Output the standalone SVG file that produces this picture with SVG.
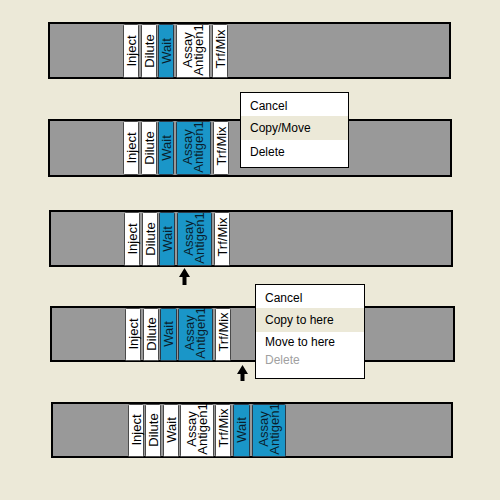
<svg xmlns="http://www.w3.org/2000/svg" width="500" height="500" viewBox="0 0 500 500">
<style>
.bar{fill:#999999;stroke:#000;stroke-width:2}
.blk{fill:#ffffff;stroke:#4a4a4a;stroke-width:1}
.blu{fill:#1a96c8;stroke:#2a3a48;stroke-width:1}
.lbl{font-family:"Liberation Sans",Arial,sans-serif;font-size:13px;fill:#000;text-anchor:middle}
.lblb{font-family:"Liberation Sans",Arial,sans-serif;font-size:13px;fill:#0a1e2c;text-anchor:middle}
.menu{fill:#ffffff;stroke:#000;stroke-width:1}
.hl{fill:#ece9d8}
.mt{font-family:"Liberation Sans",Arial,sans-serif;font-size:12px;fill:#000}
.dis{fill:#a0a0a0}
.arrow{fill:#000}
</style>
<rect width="500" height="500" fill="#ece9d8"/>

<!-- Row 1 -->
<g id="row1">
<rect class="bar" x="49" y="23" width="401" height="55"/>
<g id="r1-inject"><rect class="blk" x="123.5" y="24.5" width="15" height="53" rx="1"/><text class="lbl" transform="translate(131,51) rotate(-90)" y="4.5">Inject</text></g>
<g id="r1-dilute"><rect class="blk" x="141.5" y="24.5" width="15" height="53" rx="1"/><text class="lbl" transform="translate(149,51) rotate(-90)" y="4.5">Dilute</text></g>
<g id="r1-wait"><rect class="blu" x="158.5" y="24.5" width="15" height="53" rx="1"/><text class="lblb" transform="translate(166,51) rotate(-90)" y="4.5">Wait</text></g>
<g id="r1-assay"><rect class="blk" x="176.5" y="24.5" width="33" height="53" rx="1"/><text class="lbl" transform="translate(192.5,50) rotate(-90)"><tspan x="0" y="-1">Assay</tspan><tspan x="0" y="10">Antigen1</tspan></text></g>
<g id="r1-trf"><rect class="blk" x="212.5" y="24.5" width="15" height="53" rx="1"/><text class="lbl" transform="translate(220,49) rotate(-90)" y="4.5">Trf/Mix</text></g>
</g>

<!-- Row 2 -->
<g id="row2">
<rect class="bar" x="49" y="120" width="402" height="56"/>
<g id="r2-inject"><rect class="blk" x="123.5" y="121.5" width="15" height="53" rx="1"/><text class="lbl" transform="translate(131,148) rotate(-90)" y="4.5">Inject</text></g>
<g id="r2-dilute"><rect class="blk" x="141.5" y="121.5" width="15" height="53" rx="1"/><text class="lbl" transform="translate(149,148) rotate(-90)" y="4.5">Dilute</text></g>
<g id="r2-wait"><rect class="blu" x="158.5" y="121.5" width="15" height="53" rx="1"/><text class="lblb" transform="translate(166,148) rotate(-90)" y="4.5">Wait</text></g>
<g id="r2-assay"><rect class="blu" x="176.5" y="121.5" width="34" height="53" rx="1"/><text class="lblb" transform="translate(193,147) rotate(-90)"><tspan x="0" y="-1">Assay</tspan><tspan x="0" y="10">Antigen1</tspan></text></g>
<g id="r2-trf"><rect class="blk" x="213.5" y="121.5" width="15" height="53" rx="1"/><text class="lbl" transform="translate(221,146) rotate(-90)" y="4.5">Trf/Mix</text></g>
</g>
<g id="menu1">
<rect class="menu" x="240.5" y="92.5" width="108" height="75"/>
<rect class="hl" x="241" y="116" width="107" height="24"/>
<text class="mt" x="250" y="110">Cancel</text>
<text class="mt" x="250" y="132">Copy/Move</text>
<text class="mt" x="250" y="156">Delete</text>
</g>

<!-- Row 3 -->
<g id="row3">
<rect class="bar" x="50" y="211" width="402" height="55"/>
<g id="r3-inject"><rect class="blk" x="124.5" y="212.5" width="15" height="53" rx="1"/><text class="lbl" transform="translate(132,239) rotate(-90)" y="4.5">Inject</text></g>
<g id="r3-dilute"><rect class="blk" x="142.5" y="212.5" width="15" height="53" rx="1"/><text class="lbl" transform="translate(150,239) rotate(-90)" y="4.5">Dilute</text></g>
<g id="r3-wait"><rect class="blu" x="159.5" y="212.5" width="15" height="53" rx="1"/><text class="lblb" transform="translate(167,239) rotate(-90)" y="4.5">Wait</text></g>
<g id="r3-assay"><rect class="blu" x="177.5" y="212.5" width="34" height="53" rx="1"/><text class="lblb" transform="translate(194,238) rotate(-90)"><tspan x="0" y="-1">Assay</tspan><tspan x="0" y="10">Antigen1</tspan></text></g>
<g id="r3-trf"><rect class="blk" x="214.5" y="212.5" width="15" height="53" rx="1"/><text class="lbl" transform="translate(222,237) rotate(-90)" y="4.5">Trf/Mix</text></g>
</g>

<!-- Row 4 -->
<g id="row4">
<rect class="bar" x="51" y="307" width="403" height="54"/>
<g id="r4-inject"><rect class="blk" x="125.5" y="308.5" width="15" height="52" rx="1"/><text class="lbl" transform="translate(133,334) rotate(-90)" y="4.5">Inject</text></g>
<g id="r4-dilute"><rect class="blk" x="143.5" y="308.5" width="15" height="52" rx="1"/><text class="lbl" transform="translate(151,334) rotate(-90)" y="4.5">Dilute</text></g>
<g id="r4-wait"><rect class="blu" x="160.5" y="308.5" width="16" height="52" rx="1"/><text class="lblb" transform="translate(168.5,334) rotate(-90)" y="4.5">Wait</text></g>
<g id="r4-assay"><rect class="blu" x="178.5" y="308.5" width="34" height="52" rx="1"/><text class="lblb" transform="translate(195,333) rotate(-90)"><tspan x="0" y="-1">Assay</tspan><tspan x="0" y="10">Antigen1</tspan></text></g>
<g id="r4-trf"><rect class="blk" x="215.5" y="308.5" width="15" height="52" rx="1"/><text class="lbl" transform="translate(223,332) rotate(-90)" y="4.5">Trf/Mix</text></g>
</g>
<g id="menu2">
<rect class="menu" x="255.5" y="284.5" width="109" height="94"/>
<rect class="hl" x="256" y="308" width="108" height="24"/>
<text class="mt" x="265" y="302">Cancel</text>
<text class="mt" x="265" y="324">Copy to here</text>
<text class="mt" x="265" y="346">Move to here</text>
<text class="mt dis" x="265" y="364">Delete</text>
</g>

<!-- Row 5 -->
<g id="row5">
<rect class="bar" x="52" y="403" width="400" height="54"/>
<g id="r5-inject"><rect class="blk" x="128.5" y="404.5" width="15" height="52" rx="1"/><text class="lbl" transform="translate(136,430) rotate(-90)" y="4.5">Inject</text></g>
<g id="r5-dilute"><rect class="blk" x="145.5" y="404.5" width="15" height="52" rx="1"/><text class="lbl" transform="translate(153,430) rotate(-90)" y="4.5">Dilute</text></g>
<g id="r5-wait"><rect class="blk" x="163.5" y="404.5" width="15" height="52" rx="1"/><text class="lbl" transform="translate(171,430) rotate(-90)" y="4.5">Wait</text></g>
<g id="r5-assay"><rect class="blk" x="180.5" y="404.5" width="33" height="52" rx="1"/><text class="lbl" transform="translate(196.5,429) rotate(-90)"><tspan x="0" y="-1">Assay</tspan><tspan x="0" y="10">Antigen1</tspan></text></g>
<g id="r5-trf"><rect class="blk" x="215.5" y="404.5" width="15" height="52" rx="1"/><text class="lbl" transform="translate(223,428) rotate(-90)" y="4.5">Trf/Mix</text></g>
<g id="r5-wait2"><rect class="blu" x="233.5" y="404.5" width="16" height="52" rx="1"/><text class="lblb" transform="translate(241.5,430) rotate(-90)" y="4.5">Wait</text></g>
<g id="r5-assay2"><rect class="blu" x="252.5" y="404.5" width="33" height="52" rx="1"/><text class="lblb" transform="translate(268.5,429) rotate(-90)"><tspan x="0" y="-1">Assay</tspan><tspan x="0" y="10">Antigen1</tspan></text></g>
</g>

<!-- Connectors (insertion arrows) -->
<g id="connectors">
<polygon class="arrow" points="184.5,268 190,277 186.5,277 186.5,285 182.5,285 182.5,277 179,277"/>
<polygon class="arrow" points="242.5,365 248,374 244.5,374 244.5,381 240.5,381 240.5,374 237,374"/>
</g>
</svg>
